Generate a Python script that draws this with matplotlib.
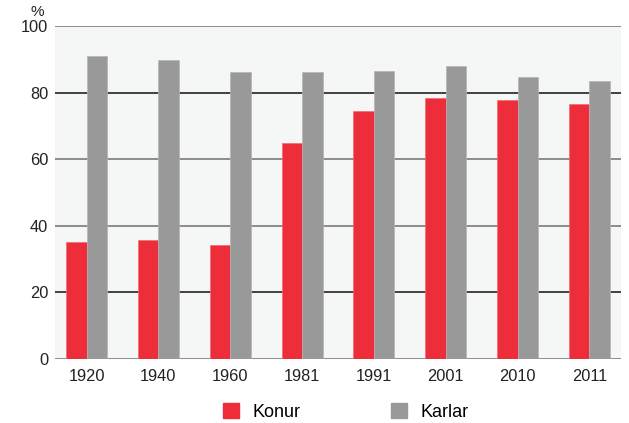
import matplotlib
matplotlib.use("Agg")
import matplotlib.pyplot as plt
import numpy as np
from matplotlib.patches import Patch

years = ["1920", "1940", "1960", "1981", "1991", "2001", "2010", "2011"]
konur = [35.2, 35.6, 34.2, 64.9, 74.6, 78.5, 77.7, 76.6]
karlar = [91.0, 89.8, 86.2, 86.2, 86.6, 87.9, 84.6, 83.6]
yticks = [0, 20, 40, 60, 80, 100]

plt.rcParams['font.family'] = ['Liberation Sans', 'DejaVu Sans']

fig = plt.figure(figsize=(6.29, 4.23), dpi=100)
ax = fig.add_axes([55/629, (423-359)/423, (621-55)/629, (359-26)/423])
ax.set_facecolor('#f5f7f6')

x = np.arange(len(years))
w = 0.286
ax.set_xlim(-0.44, len(years) - 0.56)
ax.set_ylim(0, 100)

grid_colors = {0: '#7a7a7a', 20: '#222222', 40: '#7a7a7a', 60: '#7a7a7a', 80: '#222222', 100: '#7a7a7a'}
for yv in yticks:
    ax.axhline(yv, color=grid_colors[yv], lw=1.2, zorder=1)

ax.bar(x - w/2, konur, w, color='#ee2d3a', edgecolor='#f06a72', linewidth=0.5, zorder=2)
ax.bar(x + w/2, karlar, w, color='#999999', edgecolor='#b5b5b5', linewidth=0.5, zorder=2)

for s in ax.spines.values():
    s.set_visible(False)
ax.set_yticks(yticks)
ax.set_xticks(x)
ax.set_xticklabels(years)
ax.tick_params(axis='both', length=0, labelsize=11.8, colors='#222222')
ax.tick_params(axis='y', pad=5)
ax.tick_params(axis='x', pad=7)

fig.text(37/629, 1 - 12/423, '%', fontsize=11, color='#222222', ha='center', va='center')

handles = [Patch(color='#ee2d3a', label='Konur'), Patch(color='#999999', label='Karlar')]
fig.legend(handles=handles, loc='center', bbox_to_anchor=(346/629, 1 - 412/423), ncol=2,
           frameon=False, fontsize=13, handlelength=0.9, handleheight=0.9, columnspacing=5.0,
           handletextpad=0.75)

fig.savefig('out.png', dpi=100)
